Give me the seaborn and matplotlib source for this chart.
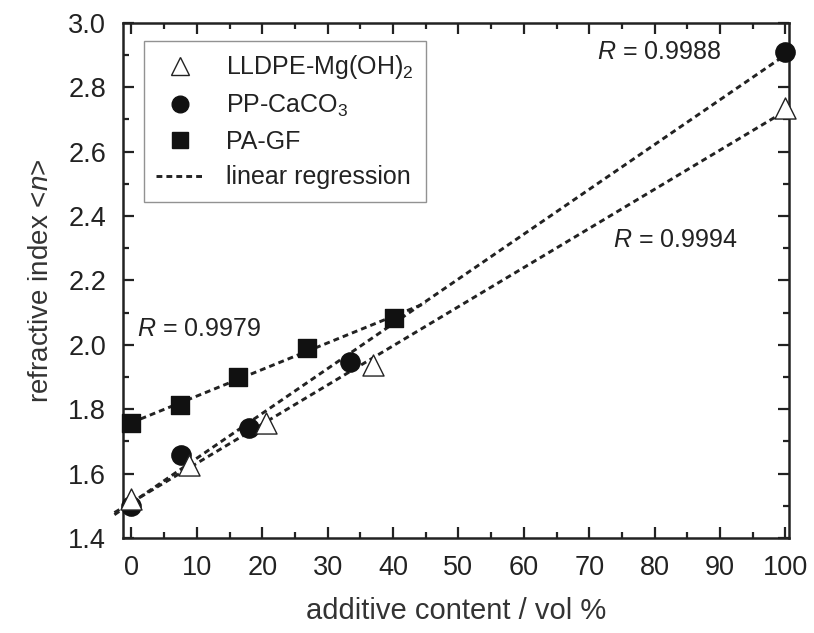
import numpy as np
import pandas as pd
import seaborn as sns
import matplotlib.pyplot as plt
from matplotlib.lines import Line2D
from matplotlib.ticker import MultipleLocator

# data
lldpe_x = [0, 8.8, 20.6, 37, 100]
lldpe_y = [1.52, 1.627, 1.757, 1.937, 2.735]
pp_x = [0, 7.6, 18, 33.4, 100]
pp_y = [1.50, 1.658, 1.742, 1.947, 2.909]
pa_x = [0, 7.5, 16.3, 26.8, 40.2]
pa_y = [1.757, 1.813, 1.899, 1.99, 2.082]

r_labels = ["0.9994", "0.9988", "0.9979"]

sns.set_style("ticks")
plt.rcParams["font.family"] = ["Liberation Sans", "DejaVu Sans"]
plt.rcParams["mathtext.fontset"] = "custom"
plt.rcParams["mathtext.rm"] = "Liberation Sans"
plt.rcParams["mathtext.it"] = "Liberation Sans:italic"

fig = plt.figure(figsize=(8.14, 6.33), dpi=100)
ax = fig.add_axes([0.151, 0.150, 0.818, 0.814])

dash = (0, (2, 1.4))

# regression lines
fits = [
    (lldpe_x, lldpe_y, -2.6, 100.3),
    (pp_x, pp_y, -2.6, 100.3),
    (pa_x, pa_y, 0, 45),
]
for xs, ys, x0, x1 in fits:
    k, b = np.polyfit(xs, ys, 1)
    lx = np.array([x0, x1])
    ax.plot(lx, k * lx + b, color="#222222", lw=2.1, linestyle=dash, zorder=2,
            clip_on=False)

sns.scatterplot(x=pa_x, y=pa_y, marker="s", s=150, color="#111111",
                edgecolor="#111111", ax=ax, zorder=3, clip_on=False)
sns.scatterplot(x=pp_x, y=pp_y, marker="o", s=190, color="#111111",
                edgecolor="#111111", ax=ax, zorder=3, clip_on=False)
sns.scatterplot(x=lldpe_x, y=lldpe_y, marker="^", s=230, facecolor="white",
                edgecolor="#222222", linewidth=1.0, ax=ax, zorder=4, clip_on=False)

ax.set_xlim(-1.3, 100.5)
ax.set_ylim(1.4, 3.0)
ax.xaxis.set_major_locator(MultipleLocator(10))
ax.xaxis.set_minor_locator(MultipleLocator(5))
ax.yaxis.set_major_locator(MultipleLocator(0.2))
ax.yaxis.set_minor_locator(MultipleLocator(0.1))
ax.tick_params(which="both", direction="in", top=True, right=True, width=1.6,
               labelsize=19.5, colors="#222222", pad=12)
ax.tick_params(which="major", length=8)
ax.tick_params(which="minor", length=4.5)
ax.yaxis.set_major_formatter(plt.FuncFormatter(lambda v, p: f"{v:.1f}"))
for sp in ax.spines.values():
    sp.set_linewidth(1.8)
    sp.set_color("#222222")

ax.set_xlabel("additive content / vol %", fontsize=21, color="#333333", labelpad=12)
ax.set_ylabel("refractive index <$n$>", fontsize=20, color="#333333", labelpad=10)

ax.text(71.2, 2.91, "$R$ = " + r_labels[1], fontsize=18, color="#222222", va="center")
ax.text(73.6, 2.325, "$R$ = " + r_labels[0], fontsize=18, color="#222222", va="center")
ax.text(0.8, 2.05, "$R$ = " + r_labels[2], fontsize=18, color="#222222", va="center")

handles = [
    Line2D([], [], marker="^", ls="none", ms=13, mfc="white", mec="#222222", mew=1.0),
    Line2D([], [], marker="o", ls="none", ms=12, color="#111111"),
    Line2D([], [], marker="s", ls="none", ms=11, color="#111111"),
    Line2D([], [], color="#222222", lw=2.1, ls=dash),
]
labels = ["LLDPE-Mg(OH)$_2$", "PP-CaCO$_3$", "PA-GF", "linear regression"]
leg = ax.legend(handles, labels, loc="upper left", bbox_to_anchor=(0.031, 0.965),
                borderaxespad=0, fontsize=18, frameon=True, fancybox=False,
                edgecolor="#777777", handlelength=1.9, borderpad=0.5,
                labelspacing=0.45, handletextpad=0.9)
leg.get_frame().set_linewidth(1.0)
for t in leg.get_texts():
    t.set_color("#222222")

fig.savefig("out.png", dpi=100)
